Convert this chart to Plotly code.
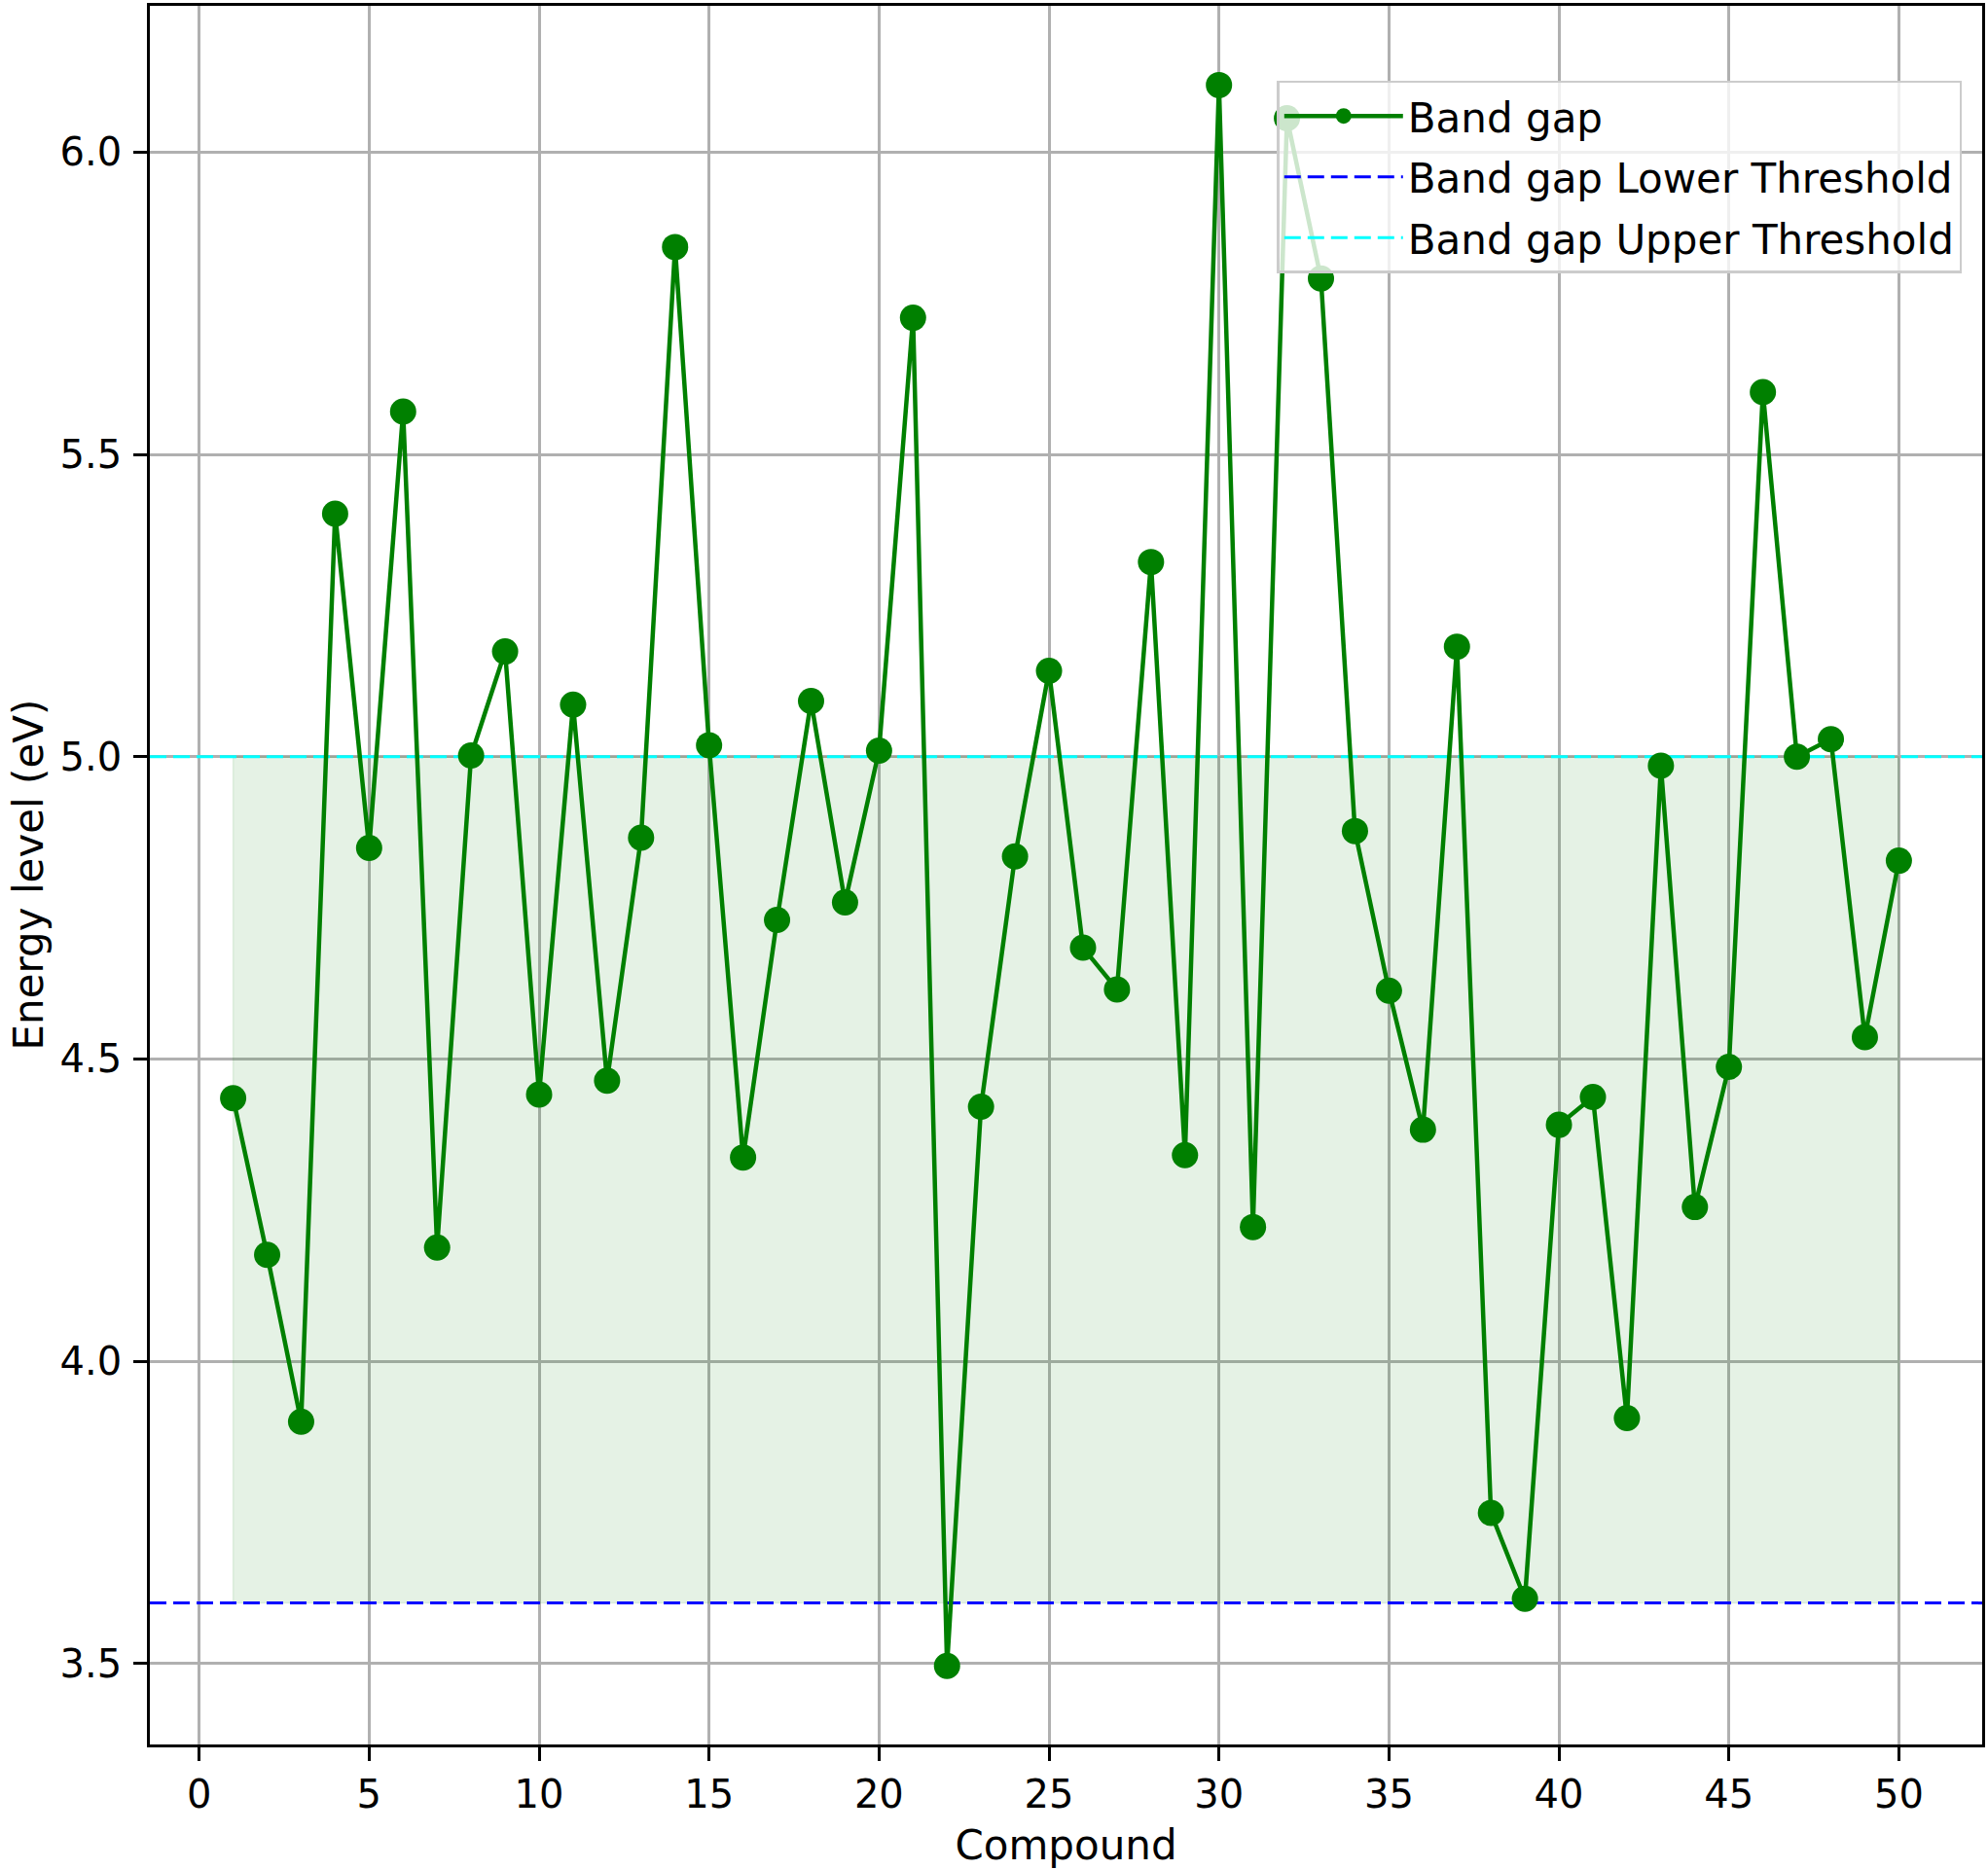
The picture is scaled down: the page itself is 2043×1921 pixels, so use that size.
import plotly.graph_objects as go

# band gap per compound
compound = list(range(1, 51))
band_gap = [4.435, 4.176, 3.900, 5.402, 4.849, 5.571, 4.188, 5.002, 5.174, 4.441,
            5.086, 4.464, 4.866, 5.843, 5.019, 4.337, 4.730, 5.092, 4.759, 5.010,
            5.726, 3.496, 4.421, 4.835, 5.142, 4.684, 4.615, 5.322, 4.341, 6.111,
            4.222, 6.056, 5.791, 4.877, 4.613, 4.383, 5.182, 3.749, 3.607, 4.391,
            4.437, 3.906, 4.985, 4.255, 4.487, 5.603, 5.000, 5.029, 4.536, 4.828]
LOWER = 3.6
UPPER = 5.0
X_RANGE = [-1.45, 52.45]
Y_RANGE = [3.366, 6.242]
X_TICKS = [0, 5, 10, 15, 20, 25, 30, 35, 40, 45, 50]
Y_TICKS = [3.5, 4.0, 4.5, 5.0, 5.5, 6.0]

FONT = "DejaVu Sans"
FS_TICK = 40
FS_TEXT = 42
fig = go.Figure()

# shaded band between thresholds over the data span
fx = [compound[0], compound[-1], compound[-1], compound[0], compound[0]]
fy = [LOWER, LOWER, UPPER, UPPER, LOWER]
fig.add_trace(go.Scatter(x=fx, y=fy, mode="lines", fill="toself",
                         fillcolor="rgba(0,128,0,0.1)",
                         line=dict(color="rgba(0,128,0,0.1)", width=1.5),
                         hoverinfo="skip", showlegend=False))

# threshold lines first so the markers sit on top
fig.add_trace(go.Scatter(x=X_RANGE, y=[LOWER, LOWER], mode="lines",
                         line=dict(color="blue", width=3, dash="17px,7px"),
                         name="Band gap Lower Threshold", legendgroup="b", legendrank=2))
fig.add_trace(go.Scatter(x=X_RANGE, y=[UPPER, UPPER], mode="lines",
                         line=dict(color="cyan", width=3, dash="17px,7px"),
                         name="Band gap Upper Threshold", legendgroup="c", legendrank=3))
fig.add_trace(go.Scatter(x=compound, y=band_gap, mode="lines+markers",
                         line=dict(color="green", width=4.5),
                         marker=dict(color="green", size=27),
                         name="Band gap", legendgroup="a", legendrank=1))

axis_common = dict(showline=True, linecolor="black", linewidth=2.6, mirror=True,
                   ticks="outside", ticklen=14, tickwidth=2.6, tickcolor="black",
                   showgrid=True, gridcolor="#b0b0b0", gridwidth=2.6, zeroline=False,
                   tickfont=dict(family=FONT, size=FS_TICK, color="black"))
fig.update_xaxes(range=X_RANGE, tickvals=X_TICKS,
                 title=dict(text="Compound", font=dict(family=FONT, size=FS_TEXT, color="black"), standoff=20),
                 **axis_common)
fig.update_yaxes(range=Y_RANGE, tickvals=Y_TICKS, ticktext=[f"{v:.1f}" for v in Y_TICKS],
                 ticklabelstandoff=4, **axis_common)

fig.update_layout(
    width=2043, height=1921,
    margin=dict(l=154, r=3, t=3, b=128),
    paper_bgcolor="white", plot_bgcolor="white",
    font=dict(family=FONT, color="black"),
    legend=dict(x=0.989, y=0.957, xanchor="right", yanchor="top",
                bgcolor="rgba(255,255,255,0.8)", bordercolor="#cccccc", borderwidth=2.5,
                font=dict(family=FONT, size=FS_TEXT, color="black"),
                itemwidth=122, tracegroupgap=5, traceorder="grouped"),
    annotations=[dict(text="Energy level (eV)", textangle=-90, showarrow=False,
                      xref="paper", yref="paper", x=0, y=0.5, xanchor="center", yanchor="middle",
                      xshift=-125, borderpad=0, font=dict(family=FONT, size=FS_TEXT, color="black"))],
)

fig.write_html("out.html", config={"displayModeBar": False},
               post_script="document.body.style.margin='0';")
